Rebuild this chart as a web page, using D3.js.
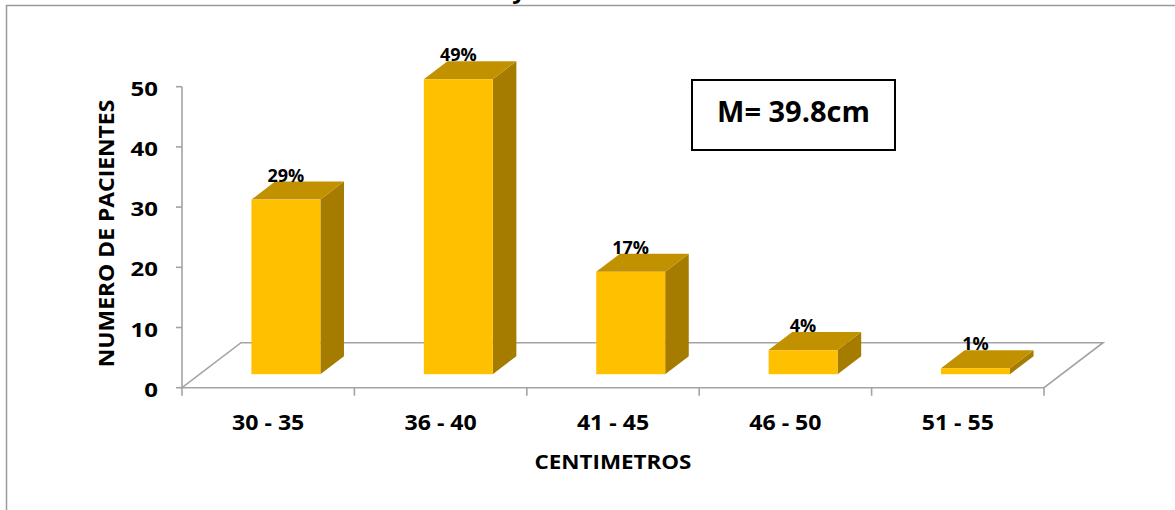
<!DOCTYPE html>
<html>
<head>
<meta charset="utf-8">
<script src="https://cdn.jsdelivr.net/npm/d3@7"></script>
<style>
  html, body { margin: 0; padding: 0; background: #fff; }
  svg { display: block; }
  text { font-family: "Open Sans", "Noto Sans", sans-serif; font-weight: 700; fill: #000; }
</style>
</head>
<body>
<svg id="chart" width="1175" height="510"></svg>
<script>
// Circumference ranges (cm) and number of patients in each range
const categories = ["30 - 35", "36 - 40", "41 - 45", "46 - 50", "51 - 55"];
const patients = [29, 49, 17, 4, 1];
const percentLabels = ["29%", "49%", "17%", "4%", "1%"];
const yTicks = [0, 10, 20, 30, 40, 50];
const yTitle = "NUMERO DE PACIENTES";
const xTitle = "CENTIMETROS";
const meanNote = "M= 39.8cm";

const svg = d3.select("#chart");

// Plot frame (front plane) and the oblique depth of the 3-D floor
const plot = { left: 182, right: 1044, top: 86.7, bottom: 387.7 };
const DEPTH_X = 59, DEPTH_Y = -45;
const BAR_FRONT = 0.3, BAR_BACK = 0.7, BAR_WIDTH = 0.4;

const x = d3.scaleBand().domain(categories).range([plot.left, plot.right]);
const y = d3.scaleLinear().domain([0, 50]).range([plot.bottom, plot.top]);
const band = x.bandwidth();

// project (front-plane x, value, depth 0..1) to screen
const proj = (px, v, d) => [px + DEPTH_X * d, y(v) + DEPTH_Y * d];

const gridColor = "#a3a3a3";

// outer chart border (runs off the right/bottom edges)
svg.append("rect")
  .attr("x", 6.5).attr("y", 5.5)
  .attr("width", 1300).attr("height", 700)
  .attr("fill", "none").attr("stroke", "#9a9a9a").attr("stroke-width", 1.5);

// fragment of the title's descender above the frame
svg.append("text")
  .attr("x", 519).attr("y", -2)
  .attr("text-anchor", "middle")
  .attr("font-size", 24)
  .text("y");

// floor outline
const floorPts = [
  proj(plot.left, 0, 0), proj(plot.right, 0, 0),
  proj(plot.right, 0, 1), proj(plot.left, 0, 1)
];
svg.append("polygon")
  .attr("points", floorPts.map(p => p.join(",")).join(" "))
  .attr("fill", "none")
  .attr("stroke", gridColor)
  .attr("stroke-width", 1.6)
  .attr("stroke-linejoin", "miter");

// value axis
const yAxis = svg.append("g");
yAxis.append("line")
  .attr("x1", plot.left).attr("x2", plot.left)
  .attr("y1", y(50)).attr("y2", y(0))
  .attr("stroke", gridColor).attr("stroke-width", 1.6);
yAxis.selectAll("line.tick").data(yTicks).join("line")
  .attr("class", "tick")
  .attr("x1", plot.left - 6).attr("x2", plot.left)
  .attr("y1", d => y(d)).attr("y2", d => y(d))
  .attr("stroke", gridColor).attr("stroke-width", 1.6);
yAxis.selectAll("text").data(yTicks).join("text")
  .attr("transform", d => `translate(${plot.left - 24},${y(d) + 9}) scale(1.2,1)`)
  .attr("text-anchor", "end")
  .attr("font-size", 20)
  .text(d => d);

// category axis: ticks at band boundaries under the floor's front edge
const bounds = categories.map(c => x(c)).concat([plot.right]);
svg.append("g").selectAll("line").data(bounds).join("line")
  .attr("x1", d => d).attr("x2", d => d)
  .attr("y1", y(0)).attr("y2", y(0) + 8)
  .attr("stroke", gridColor).attr("stroke-width", 1.6);
svg.append("g").selectAll("text").data(categories).join("text")
  .attr("transform", d => `translate(${x(d) + band / 2},${y(0) + 42}) scale(1.1,1)`)
  .attr("text-anchor", "middle")
  .attr("font-size", 21)
  .text(d => d);

// 3-D bars
const bars = svg.append("g");
categories.forEach((c, i) => {
  const v = patients[i];
  const x0 = x(c) + band * (1 - BAR_WIDTH) / 2;
  const x1 = x0 + band * BAR_WIDTH;
  const poly = pts => pts.map(p => p.join(",")).join(" ");
  // side face
  bars.append("polygon")
    .attr("points", poly([proj(x1, 0, BAR_FRONT), proj(x1, v, BAR_FRONT), proj(x1, v, BAR_BACK), proj(x1, 0, BAR_BACK)]))
    .attr("fill", "#a67c00");
  // top face
  bars.append("polygon")
    .attr("points", poly([proj(x0, v, BAR_FRONT), proj(x1, v, BAR_FRONT), proj(x1, v, BAR_BACK), proj(x0, v, BAR_BACK)]))
    .attr("fill", "#c29100");
  // front face
  const [fx0, fyTop] = proj(x0, v, BAR_FRONT);
  const [fx1, fyBot] = proj(x1, 0, BAR_FRONT);
  bars.append("rect")
    .attr("x", fx0).attr("y", fyTop)
    .attr("width", fx1 - fx0).attr("height", fyBot - fyTop)
    .attr("fill", "#ffc000");
  // percentage label above the bar
  bars.append("text")
    .attr("x", (fx0 + fx1) / 2)
    .attr("y", proj(x0, v, BAR_BACK)[1])
    .attr("text-anchor", "middle")
    .attr("font-size", 18)
    .text(percentLabels[i]);
});

// axis titles
svg.append("text")
  .attr("transform", `translate(${(plot.left + plot.right) / 2},469) scale(1.12,1)`)
  .attr("text-anchor", "middle")
  .attr("font-size", 20)
  .text(xTitle);
svg.append("text")
  .attr("transform", "translate(114,233.5) rotate(-90) scale(1.04,1)")
  .attr("text-anchor", "middle")
  .attr("font-size", 22)
  .text(yTitle);

// mean annotation box
svg.append("rect")
  .attr("x", 692).attr("y", 80)
  .attr("width", 203).attr("height", 70)
  .attr("fill", "#fff").attr("stroke", "#000").attr("stroke-width", 2);
svg.append("text")
  .attr("x", 793.5).attr("y", 121.5)
  .attr("text-anchor", "middle")
  .attr("font-size", 29)
  .text(meanNote);
</script>
</body>
</html>
